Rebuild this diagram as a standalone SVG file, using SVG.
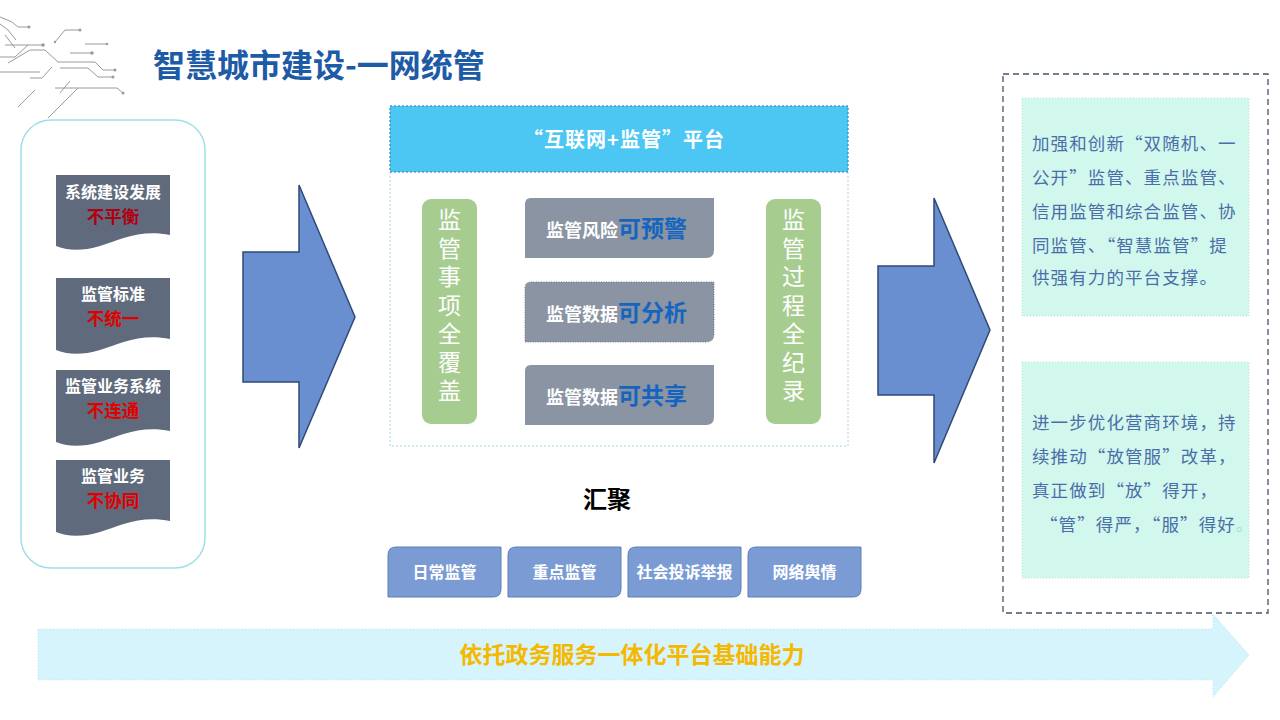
<svg xmlns="http://www.w3.org/2000/svg" width="1280" height="720" viewBox="0 0 1280 720">
<defs>
<style>
.cjk{font-family:"Noto Sans CJK SC","Noto Sans CJK JP",sans-serif}
.card{fill:#5f6b7c}
.ct{text-anchor:middle;font-weight:bold}
.cw{fill:#ffffff;font-size:16px}
.cr{font-size:17.5px}
.pill{fill:#a6cd8f}
.pt{fill:#ffffff;font-size:23px;writing-mode:vertical-rl;letter-spacing:5.5px}
.gb{fill:#8a94a2}
.gw{fill:#ffffff;font-size:18px;font-weight:bold}
.gbl{fill:#1565c0;font-size:23px;font-weight:bold}
.sb{fill:#7b9bd5;stroke:#5f7fb8;stroke-width:1}
.st{fill:#ffffff;font-size:16px;font-weight:bold;text-anchor:middle}
.bigarrow{fill:#6a8fd0;stroke:#2f4a78;stroke-width:1.5}
.tb{fill:#d2f8ee;stroke:#b9e3d6;stroke-width:1;stroke-dasharray:1 2}
.tt{fill:#4c6ea8;font-size:17.5px;letter-spacing:1.1px}
.circ{fill:none;stroke:#9a9a9a;stroke-width:1}
.dot{fill:#9a9a9a}
</style>
</defs>

<!-- decoration -->
<g id="decoration">
<path class="circ" d="M0 17 L12 22 L18 27 L29 27"/>
<path class="circ" d="M0 24 L8 30 L16 40"/>
<path class="circ" d="M5 45 L43 45" stroke-width="2"/>
<path class="circ" d="M55 42 L65 30 L80 30"/>
<path class="circ" d="M85 44 L107 44"/>
<path class="circ" d="M8 63 L30 50 L45 50 L58 62 L95 62 L103 70 L115 70"/>
<path class="circ" d="M70 53 L92 53" stroke-width="2"/>
<path class="circ" d="M60 68 L88 68 L98 77 L113 77"/>
<path class="circ" d="M0 72 L40 72"/>
<path class="circ" d="M0 57 L15 57 L28 45"/>
<path class="circ" d="M55 88 L117 88 L123 93"/>
<path class="circ" d="M18 107 L35 90"/>
<path class="circ" d="M48 118 L78 88"/>
<path class="circ" d="M60 93 L70 81"/>
<path class="circ" d="M30 78 L42 78 L52 67"/>
<path class="circ" d="M5 35 L15 48"/>
<circle class="dot" cx="29" cy="27" r="1.5"/>
<circle class="dot" cx="80" cy="30" r="1.5"/>
<circle class="dot" cx="107" cy="44" r="1.2"/>
<circle class="dot" cx="43" cy="45" r="1.8"/>
<circle class="dot" cx="92" cy="53" r="1.8"/>
<circle class="dot" cx="113" cy="77" r="1.5"/>
<circle class="dot" cx="115" cy="70" r="1.5"/>
<circle class="dot" cx="123" cy="93" r="1.5"/>
<circle class="dot" cx="55" cy="42" r="1.2"/>
</g>

<!-- title -->
<g id="title">
<text x="153" y="77" class="cjk" font-size="32" font-weight="bold" fill="#1d5ba6">智慧城市建设-一网统管</text>
</g>

<!-- left container -->
<g id="problems">
<rect x="21" y="120" width="184" height="448" rx="30" ry="30" fill="#ffffff" stroke="#9fdfe9" stroke-width="1.5"/>
<g id="card1">
<path class="card" d="M56 175 H170 V235 C140 229 120 240 100 246 C80 252 66 250 56 246 Z"/>
<text class="cjk ct" x="113" y="198"><tspan class="cw">系统建设发展</tspan><tspan class="cr" fill="#b00010" x="113" dy="25">不平衡</tspan></text>
</g>
<g id="card2">
<path class="card" d="M56 278 H170 V339 C140 333 120 344 100 350 C80 356 66 354 56 350 Z"/>
<text class="cjk ct" x="113" y="300"><tspan class="cw">监管标准</tspan><tspan class="cr" fill="#e00000" x="113" dy="25">不统一</tspan></text>
</g>
<g id="card3">
<path class="card" d="M56 370 H170 V431 C140 425 120 436 100 442 C80 448 66 446 56 442 Z"/>
<text class="cjk ct" x="113" y="392"><tspan class="cw">监管业务系统</tspan><tspan class="cr" fill="#e00000" x="113" dy="25">不连通</tspan></text>
</g>
<g id="card4">
<path class="card" d="M56 460 H170 V521 C140 515 120 526 100 532 C80 538 66 536 56 532 Z"/>
<text class="cjk ct" x="113" y="482"><tspan class="cw">监管业务</tspan><tspan class="cr" fill="#e00000" x="113" dy="25">不协同</tspan></text>
</g>
</g>

<!-- big arrows -->
<g id="connectors">
<path class="bigarrow" d="M243 252 H299 V185 L355 317 L299 448 V382 H243 Z"/>
<path class="bigarrow" d="M878 266 H934 V198 L990 330 L934 463 V395 H878 Z"/>
</g>

<!-- platform -->
<g id="platform">
<rect x="390" y="106" width="458" height="340" fill="#ffffff" stroke="#9fd6e6" stroke-width="1" stroke-dasharray="2 2"/>
<rect x="390" y="106" width="458" height="66" fill="#4cc6f2" stroke="#2a7fb0" stroke-width="1" stroke-dasharray="2 2"/>
<text x="624" y="147" class="cjk" font-size="20" font-weight="bold" fill="#ffffff" text-anchor="middle" letter-spacing="1">“互联网+监管”平台</text>

<g id="pillar-left">
<rect class="pill" x="422" y="199" width="55" height="225" rx="9"/>
<text class="cjk pt" x="449.5" y="208">监管事项全覆盖</text>
</g>
<g id="pillar-right">
<rect class="pill" x="766" y="199" width="55" height="225" rx="9"/>
<text class="cjk pt" x="793.5" y="208">监管过程全纪录</text>
</g>

<g id="item1">
<path class="gb" d="M531 198 H714 V250 Q714 258 706 258 H525 V204 Q525 198 531 198 Z"/>
<text x="546" y="237" class="cjk"><tspan class="gw">监管风险</tspan><tspan class="gbl">可预警</tspan></text>
</g>
<g id="item2">
<path class="gb" d="M531 282 H714 V334 Q714 342 706 342 H525 V288 Q525 282 531 282 Z" stroke="#6d7888" stroke-width="1" stroke-dasharray="1 1.5"/>
<text x="546" y="321" class="cjk"><tspan class="gw">监管数据</tspan><tspan class="gbl">可分析</tspan></text>
</g>
<g id="item3">
<path class="gb" d="M531 365 H714 V417 Q714 425 706 425 H525 V371 Q525 365 531 365 Z"/>
<text x="546" y="404" class="cjk"><tspan class="gw">监管数据</tspan><tspan class="gbl">可共享</tspan></text>
</g>
</g>

<!-- convergence -->
<g id="converge">
<text x="607" y="508" class="cjk" font-size="24" font-weight="bold" fill="#000000" text-anchor="middle">汇聚</text>
</g>
<g id="sources">
<g id="src1"><path class="sb" d="M396 547 H501 V589 Q501 597 493 597 H388 V555 Q388 547 396 547 Z"/><text class="cjk st" x="444.5" y="578">日常监管</text></g>
<g id="src2"><path class="sb" d="M516 547 H621 V589 Q621 597 613 597 H508 V555 Q508 547 516 547 Z"/><text class="cjk st" x="564.5" y="578">重点监管</text></g>
<g id="src3"><path class="sb" d="M636 547 H741 V589 Q741 597 733 597 H628 V555 Q628 547 636 547 Z"/><text class="cjk st" x="684.5" y="578">社会投诉举报</text></g>
<g id="src4"><path class="sb" d="M756 547 H861 V589 Q861 597 853 597 H748 V555 Q748 547 756 547 Z"/><text class="cjk st" x="804.5" y="578">网络舆情</text></g>
</g>

<!-- right panel -->
<g id="outcomes">
<rect x="1003" y="74" width="265" height="539" fill="#ffffff" stroke="#44546a" stroke-width="1.3" stroke-dasharray="6 4"/>
<g id="outcome1">
<rect class="tb" x="1022" y="98" width="227" height="218"/>
<text class="cjk tt" x="1032" y="150">加强和创新“双随机、一</text>
<text class="cjk tt" x="1032" y="184">公开”监管、重点监管、</text>
<text class="cjk tt" x="1032" y="218">信用监管和综合监管、协</text>
<text class="cjk tt" x="1032" y="252">同监管、“智慧监管”提</text>
<text class="cjk tt" x="1032" y="284">供强有力的平台支撑。</text>
</g>
<g id="outcome2">
<rect class="tb" x="1022" y="362" width="227" height="216"/>
<text class="cjk tt" x="1032" y="429">进一步优化营商环境，持</text>
<text class="cjk tt" x="1032" y="463">续推动“放管服”改革，</text>
<text class="cjk tt" x="1032" y="497">真正做到“放”得开，</text>
<text class="cjk tt" x="1040" y="531">“管”得严，“服”得好<tspan fill="#9fe3d4">。</tspan></text>
</g>
</g>

<!-- bottom arrow -->
<g id="foundation">
<path d="M38 629 H1213 V614 L1249 655 L1213 697 V680 H38 Z" fill="#d6f4fb" stroke="#b6e6f2" stroke-width="1" stroke-dasharray="1 2"/>
<text x="632" y="663" class="cjk" font-size="23" font-weight="bold" fill="#f5b800" text-anchor="middle">依托政务服务一体化平台基础能力</text>
</g>
</svg>
